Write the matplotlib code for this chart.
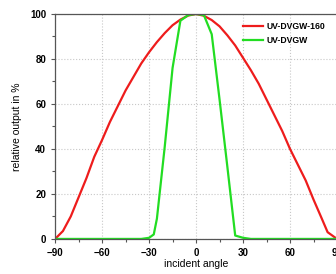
"""
plot.py
relative output vs incident angle
"""

import matplotlib
matplotlib.use('Agg')
import matplotlib.pyplot as plt
from matplotlib.ticker import MultipleLocator

plt.rcParams['font.family'] = ['Liberation Sans', 'DejaVu Sans']

# angles in degrees, output in %
red_angle = [-90, -85, -80, -75, -70, -65, -60, -55, -50, -45, -40, -35, -30,
             -25, -20, -15, -10, -5, 0, 5, 10, 15, 20, 25, 30, 35, 40, 45,
             50, 55, 60, 65, 70, 75, 80, 84, 90]
red_output = [0, 3.5, 10, 18.5, 27, 36.5, 44, 52, 59, 66, 72, 78, 83,
              87.5, 91.5, 95, 97.5, 99.3, 100, 99.2, 97.3, 94.5, 90.5, 86, 80.5, 75, 69,
              62, 55, 48, 40, 33, 26, 17.5, 9.5, 3, 0]

green_angle = [-90, -35, -30, -27, -25, -20, -15, -10, -5, 0, 5, 10, 15, 20, 25, 30, 35, 90]
green_output = [0, 0, 0.5, 2, 9, 41, 76, 97, 99.5, 100, 99.5, 91, 62, 32, 1.5, 0.5, 0, 0]

fig = plt.figure(figsize=(3.36, 2.74), dpi=100)
ax = fig.add_axes([0.164, 0.128, 0.839, 0.821])

ax.plot(red_angle, red_output, color='#ee1c1c', lw=1.6, label='UV-DVGW-160')
ax.plot(green_angle, green_output, color='#22dd22', lw=1.6, label='UV-DVGW')

ax.set_xlim(-90, 90)
ax.set_ylim(0, 100)
ax.xaxis.set_major_locator(MultipleLocator(30))
ax.xaxis.set_minor_locator(MultipleLocator(15))
ax.yaxis.set_major_locator(MultipleLocator(20))
ax.yaxis.set_minor_locator(MultipleLocator(10))

ax.grid(True, which='major', color='#c8c8c8', ls=':', lw=0.8)
ax.tick_params(which='both', direction='out', colors='#555555', labelcolor='black',
               labelsize=7)
ax.tick_params(which='major', length=3, width=0.8)
ax.tick_params(which='minor', length=2, width=0.8)
for lab in ax.get_xticklabels() + ax.get_yticklabels():
    lab.set_fontweight('bold')
for s in ax.spines.values():
    s.set_color('#555555')
    s.set_linewidth(0.9)

ax.set_xlabel('incident angle', fontsize=7.5, labelpad=1)
ax.set_ylabel('relative output in %', fontsize=7.5, labelpad=6)

leg = ax.legend(loc='upper right', bbox_to_anchor=(0.985, 0.997), frameon=False,
                prop={'size': 6.2, 'weight': 'bold'}, handlelength=2.3,
                handletextpad=0.4, labelspacing=0.55)

fig.savefig('out.png', dpi=100)
